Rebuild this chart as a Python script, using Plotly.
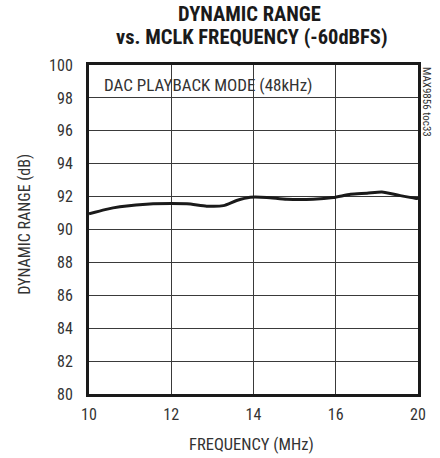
import plotly.graph_objects as go

freq = [10.0, 10.39, 10.75, 11.56, 12.38, 12.86, 13.27, 13.59, 13.92, 14.32, 14.81, 15.45, 15.94, 16.36, 16.76, 17.12, 17.57, 17.93, 18.0]
dyn_range = [90.95, 91.21, 91.38, 91.56, 91.56, 91.42, 91.45, 91.76, 91.96, 91.95, 91.84, 91.84, 91.94, 92.14, 92.2, 92.28, 92.06, 91.9, 91.88]
x_tickvals = [10, 12, 14, 16, 18]
x_ticktext = ["10", "12", "14", "16", "20"]
y_tickvals = [80, 82, 84, 86, 88, 90, 92, 94, 96, 98, 100]

FONT = "Liberation Sans Narrow, Roboto Condensed, Arial Narrow, Liberation Sans, sans-serif"
TXT = "#333333"

fig = go.Figure()
fig.add_trace(go.Scatter(x=freq, y=dyn_range, mode="lines",
                         line=dict(color="#1a1a1a", width=3, shape="spline", smoothing=0.6),
                         showlegend=False, hoverinfo="skip"))

axis_common = dict(showline=True, linecolor="#1a1a1a", linewidth=3, mirror=True,
                   showgrid=True, gridcolor="#3a3a3a", gridwidth=1, zeroline=False,
                   ticks="", tickfont=dict(family=FONT, size=16, color=TXT))

fig.update_xaxes(range=[10, 18], tickvals=x_tickvals, ticktext=x_ticktext, ticklabelstandoff=4, **axis_common)
fig.update_yaxes(range=[80, 100], tickvals=y_tickvals, ticklabelstandoff=10, **axis_common)

def ann(text, x, y, size, bold=False, angle=0, xanchor="center", yanchor="middle", color=TXT):
    fig.add_annotation(text=f"<b>{text}</b>" if bold else text, xref="paper", yref="paper",
                       x=x, y=y, xanchor=xanchor, yanchor=yanchor, textangle=angle, showarrow=False,
                       font=dict(family=FONT, size=size, color=color))

ann("DYNAMIC RANGE", 0.489, 1.156, 20.5, bold=True, color="#1a1a1a")
ann("vs. MCLK FREQUENCY (-60dBFS)", 0.495, 1.084, 20.5, bold=True, color="#1a1a1a")
ann("DAC PLAYBACK MODE (48kHz)", 0.0395, 0.939, 17, xanchor="left")
ann("MAX9856 toc33", 1.027, 1.0, 11, angle=90, yanchor="top")
ann("DYNAMIC RANGE (dB)", -0.195, 0.517, 16, angle=-90)
ann("FREQUENCY (MHz)", 0.495, -0.155, 16.5)

fig.update_layout(
    width=440, height=458,
    margin=dict(l=89, r=22, t=65, b=64),
    paper_bgcolor="white", plot_bgcolor="white",
)

fig.write_html("out.html", config={"displayModeBar": False},
               post_script="document.body.style.margin='0';")
